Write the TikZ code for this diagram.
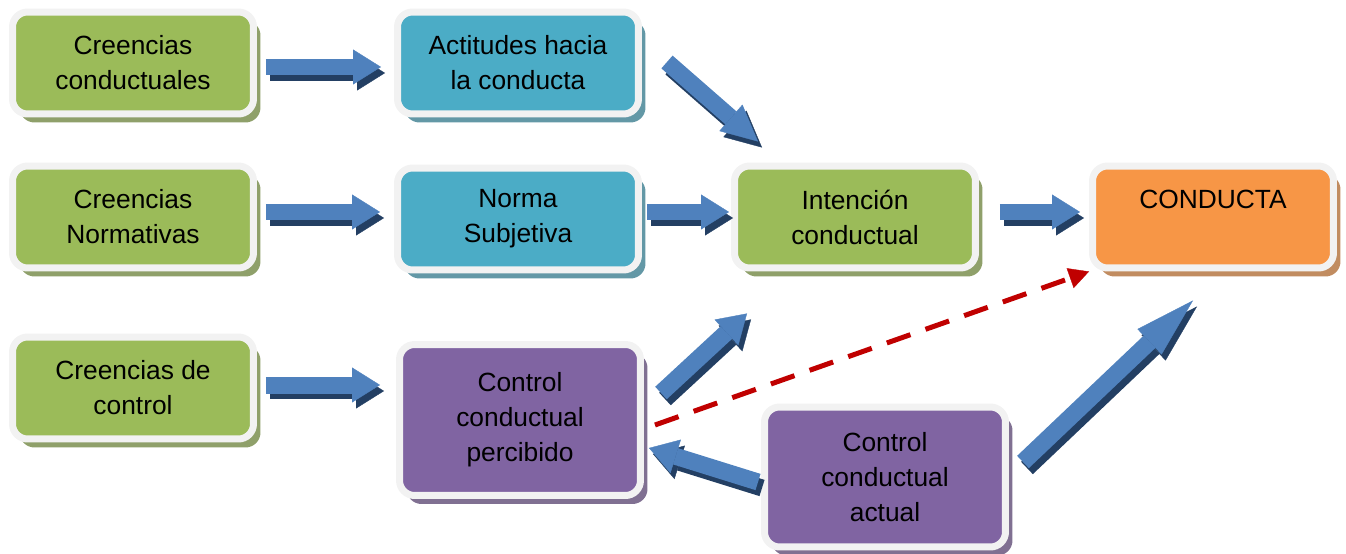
\documentclass[tikz,border=0pt]{standalone}
\usepackage{fontspec}
\setmainfont{Liberation Sans}
\usetikzlibrary{arrows.meta, positioning, shadows, calc}

\definecolor{grn}{HTML}{9BBB59}
\definecolor{cyn}{HTML}{4BACC6}
\definecolor{org}{HTML}{F79646}
\definecolor{pur}{HTML}{8064A2}
\definecolor{rim}{HTML}{F2F2F2}
\definecolor{arrblue}{HTML}{4F81BD}
\definecolor{arrdark}{HTML}{233F63}
\definecolor{dashred}{HTML}{C00000}

\tikzset{
  box/.style={draw=rim, line width=0.14cm, rounded corners=0.3cm, fill=#1,
    minimum width=4.82cm, minimum height=2.04cm, align=center,
    font=\fontsize{15}{20}\selectfont,
    drop shadow={shadow xshift=0.14cm, shadow yshift=-0.17cm, fill=#1!55!gray, opacity=1}},
  blockarrow/.style={line width=0.34cm, draw=arrblue,
    -{Triangle[width=0.7cm, length=#1, line width=0.2pt]}},
  blockarrow/.default=0.56cm,
  arrshade/.style={blockarrow=#1, draw=arrdark,
    transform canvas={shift={(0.08cm,-0.12cm)}}},
  arrshade/.default=0.56cm,
  dasharrow/.style={line width=0.1cm, draw=dashred, dash pattern=on 0.5cm off 0.32cm,
    -{Triangle[width=0.42cm, length=0.4cm, line width=0.2pt]}}
}

% block arrow with its dark shade underneath
\newcommand\blockarr[3][0.56cm]{%
  \draw[arrshade=#1] #2 -- #3;
  \draw[blockarrow=#1] #2 -- #3;}

\begin{document}
\begin{tikzpicture}[x=0.02cm, y=-0.02cm]
\useasboundingbox (0,0) rectangle (1346,554);

% boxes
\node[box=grn] (cbc) at (133,63) {Creencias\\conductuales};
\node[box=cyn] (act) at (518,63) {Actitudes hacia\\la conducta};
\node[box=grn] (cbn) at (133,217) {Creencias\\Normativas};
\node[box=cyn] (nsj) at (518,219) {Norma\\Subjetiva};
\node[box=grn] (int) at (855,217) {Intención\\conductual};
\node[box=org] (cdt) at (1213,217) {CONDUCTA\\\mbox{}};
\node[box=grn] (cbt) at (133,388) {Creencias de\\control};
\node[box=pur, minimum height=3.02cm] (ccp) at (520,420) {Control\\conductual\\percibido};
\node[box=pur, minimum height=2.8cm] (cca) at (885,477) {Control\\conductual\\actual};

% straight arrows
\foreach \a/\b/\s/\t/\dy in {cbc/act/9/13/4, cbn/nsj/9/14/-5, cbt/ccp/9/16/-3,
                             nsj/int/5/2/-7, int/cdt/21/9/-5}
  {\blockarr{($(\a.east)+(\s,\dy)$)}{($(\b.west |- \a.east)+(-\t,\dy)$)}}

% slanted arrows
\blockarr[0.72cm]{($(act.east)+(25,-1)$)}{($(int.north)+(-97,-21)$)}
\blockarr{($(ccp.east)+(17,-27)$)}{($(int.south)+(-108,42)$)}
\blockarr{($(cca.west)+(-3,5)$)}{($(ccp.east)+(5,28)$)}
\blockarr[1.2cm]{($(cca.east)+(14,-15)$)}{($(cdt.south)+(-20,29)$)}

% dashed link
\draw[dasharrow] ($(ccp.east)+(11,5)$) -- (cdt.south west);
\end{tikzpicture}
\end{document}
